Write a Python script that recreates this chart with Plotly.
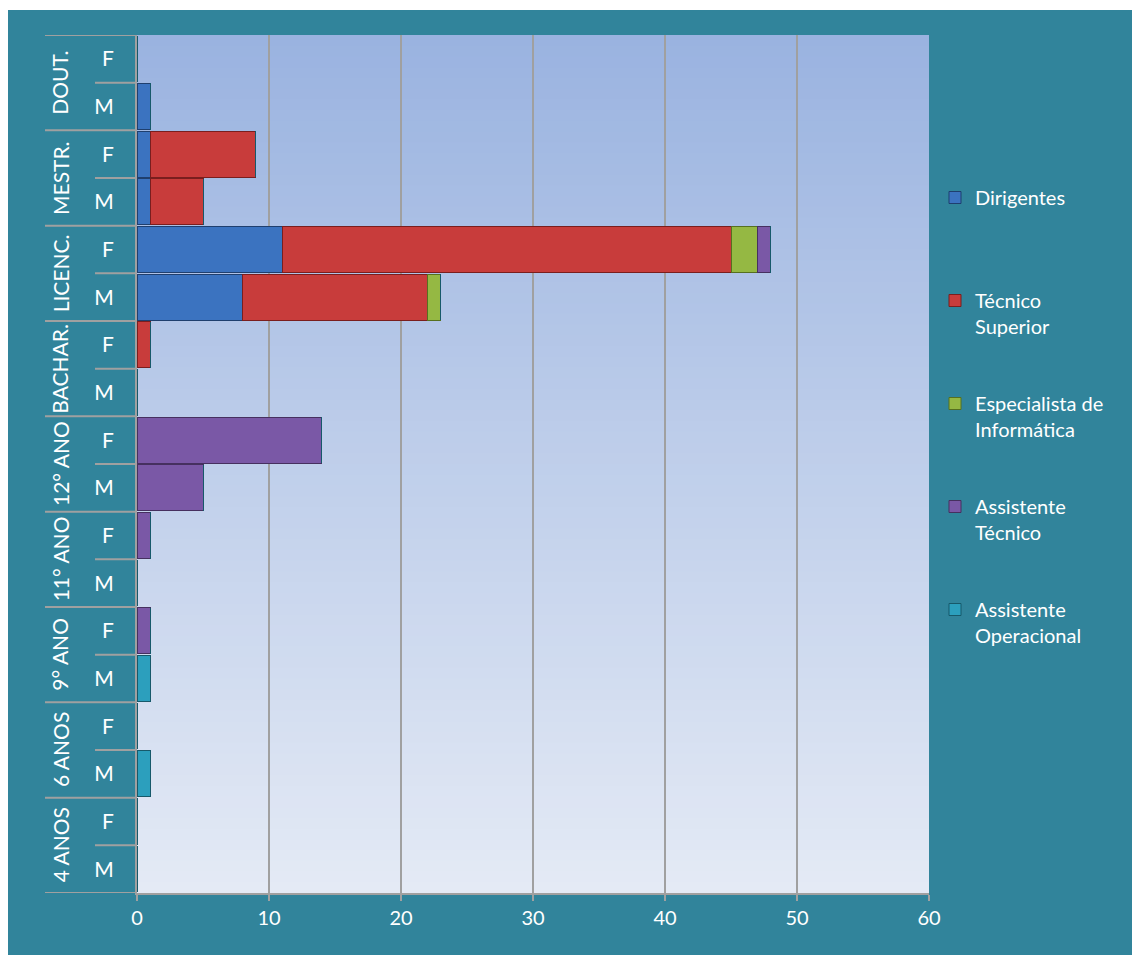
import plotly.graph_objects as go

# Rows listed top to bottom: (education level, sex)
levels = ["DOUT.", "MESTR.", "LICENC.", "BACHAR.", "12° ANO", "11° ANO", "9° ANO", "6 ANOS", "4 ANOS"]
sexes = ["F", "M"]
row_labels = [s for _ in levels for s in sexes]

series_names = ["Dirigentes<br> ", "Técnico<br>Superior", "Especialista de<br>Informática",
                "Assistente<br>Técnico", "Assistente<br>Operacional"]

#                DOUT   MESTR  LICENC  BACHAR 12ANO  11ANO  9ANO  6ANOS 4ANOS
#                F  M   F  M   F   M   F  M   F  M   F  M   F  M  F  M  F  M
dirigentes    = [0, 1,  1, 1,  11, 8,  0, 0,  0, 0,  0, 0,  0, 0, 0, 0, 0, 0]
tecnico_sup   = [0, 0,  8, 4,  34, 14, 1, 0,  0, 0,  0, 0,  0, 0, 0, 0, 0, 0]
especialista  = [0, 0,  0, 0,  2,  1,  0, 0,  0, 0,  0, 0,  0, 0, 0, 0, 0, 0]
assist_tec    = [0, 0,  0, 0,  1,  0,  0, 0,  14, 5, 1, 0,  1, 0, 0, 0, 0, 0]
assist_oper   = [0, 0,  0, 0,  0,  0,  0, 0,  0, 0,  0, 0,  0, 1, 0, 1, 0, 0]

series_values = [dirigentes, tecnico_sup, especialista, assist_tec, assist_oper]
fill_colors = ["#3B73C0", "#C83C3B", "#95B843", "#7A58A6", "#2C9FBD"]
edge_colors = ["#1F3F6E", "#7A1E1E", "#56701F", "#46305F", "#17596A"]

TEAL = "#31849B"
GRID = "#A0A0A0"
FONT = "Lato"

positions = list(range(len(row_labels)))

fig = go.Figure()
for i, (name, vals) in enumerate(zip(series_names, series_values)):
    fig.add_trace(go.Bar(
        x=vals, y=positions, orientation="h", name=name,
        marker=dict(color=fill_colors[i], line=dict(color=edge_colors[i], width=1)),
        legendgroup=f"g{i}",
    ))

fig_w, fig_h = 1132, 955
m_l, m_r, m_t, m_b = 137, 203, 35, 62
pw = fig_w - m_l - m_r
ph = fig_h - m_t - m_b

def px_x(p):
    return (p - m_l) / pw

def px_y(p):
    return 1 - (p - m_t) / ph

# teal panel with a white margin at the top and left
shapes = [dict(type="rect", xref="paper", yref="paper",
               x0=px_x(8), x1=px_x(fig_w + 5), y0=px_y(fig_h + 5), y1=px_y(10),
               fillcolor=TEAL, line=dict(width=0), layer="below")]

# vertical gradient behind the plotting area (overlapping bands, no seams)
top_rgb = (154, 179, 224)
bot_rgb = (228, 234, 245)
n_strips = 80
for k in range(n_strips):
    t = k / (n_strips - 1)
    c = tuple(round(top_rgb[j] + (bot_rgb[j] - top_rgb[j]) * t) for j in range(3))
    shapes.append(dict(type="rect", xref="paper", yref="paper",
                       x0=0, x1=1, y0=0, y1=1 - k / n_strips,
                       fillcolor=f"rgb{c}", line=dict(width=0), layer="below"))

# category separators on the left
n_rows = len(row_labels)
for b in range(0, n_rows + 1):
    edge = b - 0.5
    x0 = px_x(45) if b % 2 == 0 else px_x(95)
    shapes.append(dict(type="line", xref="paper", yref="y", x0=x0, x1=0,
                       y0=edge, y1=edge, line=dict(color=GRID, width=2), layer="above"))

annotations = []
for g, lvl in enumerate(levels):
    annotations.append(dict(
        xref="paper", yref="y", x=px_x(60), y=2 * g + 0.5, text=lvl, showarrow=False,
        textangle=-90, font=dict(family=FONT, size=21, color="white"),
        xanchor="center", yanchor="middle"))

fig.update_layout(
    width=fig_w, height=fig_h,
    margin=dict(l=m_l, r=m_r, t=m_t, b=m_b),
    paper_bgcolor="white", plot_bgcolor="rgba(0,0,0,0)",
    barmode="stack", bargap=0.03,
    font=dict(family=FONT, color="white", size=18),
    shapes=shapes, annotations=annotations,
    xaxis=dict(range=[0, 60], dtick=10, showgrid=True, gridcolor=GRID, gridwidth=2,
               showline=True, linecolor=GRID, linewidth=2, mirror=False,
               ticks="outside", ticklen=6, tickcolor=GRID, tickwidth=2,
               tickfont=dict(family=FONT, size=20, color="white"), zeroline=False),
    yaxis=dict(range=[n_rows - 0.5, -0.5], tickvals=positions, ticktext=row_labels,
               showline=True, linecolor=GRID, linewidth=2, showgrid=False, zeroline=False,
               ticks="outside", ticklen=17, tickcolor="rgba(0,0,0,0)",
               tickfont=dict(family=FONT, size=21, color="white")),
    legend=dict(x=px_x(935), y=px_y(178), xanchor="left", yanchor="top",
                bgcolor="rgba(0,0,0,0)", font=dict(family=FONT, size=20, color="white"),
                tracegroupgap=48, itemwidth=30, traceorder="grouped", valign="top"),
)

fig.write_html("out.html")
